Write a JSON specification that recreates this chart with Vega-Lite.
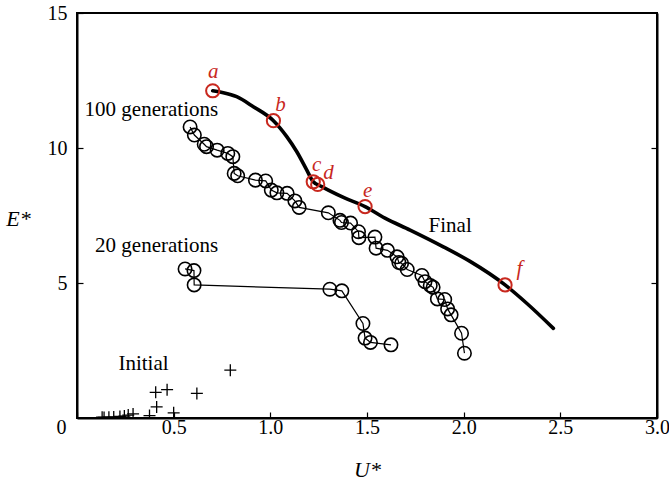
{
  "$schema": "https://vega.github.io/schema/vega-lite/v6.json",
  "width": 580,
  "height": 405,
  "autosize": {"type": "none"},
  "padding": {"left": 77, "top": 13, "right": 12, "bottom": 63},
  "config": {
    "font": "Liberation Serif",
    "view": {"stroke": "black", "strokeWidth": 2},
    "text": {"font": "Liberation Serif"},
    "axis": {"grid": false, "domainColor": "black", "domainWidth": 2, "tickColor": "black", "tickWidth": 1.2, "labelColor": "black", "labelFont": "Liberation Serif", "labelFontSize": 20, "titleFont": "Liberation Serif", "titleFontSize": 22, "titleFontStyle": "italic", "titleFontWeight": "normal", "titleColor": "black"}
  },
  "datasets": {
    "final": [
      {"u": 0.702, "e": 12.12}, {"u": 0.757, "e": 12.05}, {"u": 0.826, "e": 11.9}, {"u": 0.912, "e": 11.53},
      {"u": 1.016, "e": 11.01}, {"u": 1.085, "e": 10.42}, {"u": 1.137, "e": 9.86}, {"u": 1.188, "e": 9.19},
      {"u": 1.222, "e": 8.75}, {"u": 1.266, "e": 8.57}, {"u": 1.378, "e": 8.17}, {"u": 1.49, "e": 7.83},
      {"u": 1.593, "e": 7.4}, {"u": 1.723, "e": 6.96}, {"u": 1.895, "e": 6.34}, {"u": 2.033, "e": 5.8},
      {"u": 2.214, "e": 4.93}, {"u": 2.326, "e": 4.25}, {"u": 2.464, "e": 3.32}
    ],
    "gen100": [
      {"u": 0.585, "e": 10.78}, {"u": 0.607, "e": 10.48}, {"u": 0.658, "e": 10.14}, {"u": 0.67, "e": 10.05},
      {"u": 0.725, "e": 9.92}, {"u": 0.78, "e": 9.8}, {"u": 0.806, "e": 9.68}, {"u": 0.813, "e": 9.06},
      {"u": 0.831, "e": 8.97}, {"u": 0.923, "e": 8.81}, {"u": 0.976, "e": 8.78}, {"u": 1.005, "e": 8.44},
      {"u": 1.034, "e": 8.34}, {"u": 1.087, "e": 8.32}, {"u": 1.127, "e": 8.04}, {"u": 1.149, "e": 7.8},
      {"u": 1.3, "e": 7.6}, {"u": 1.36, "e": 7.32}, {"u": 1.368, "e": 7.24}, {"u": 1.415, "e": 7.22},
      {"u": 1.456, "e": 6.9}, {"u": 1.458, "e": 6.68}, {"u": 1.541, "e": 6.7}, {"u": 1.547, "e": 6.29},
      {"u": 1.606, "e": 6.21}, {"u": 1.655, "e": 5.97}, {"u": 1.665, "e": 5.76}, {"u": 1.679, "e": 5.73},
      {"u": 1.708, "e": 5.5}, {"u": 1.784, "e": 5.28}, {"u": 1.8, "e": 5.05}, {"u": 1.827, "e": 4.91},
      {"u": 1.842, "e": 4.84}, {"u": 1.864, "e": 4.41}, {"u": 1.902, "e": 4.39}, {"u": 1.917, "e": 4.04},
      {"u": 1.935, "e": 3.82}, {"u": 1.989, "e": 3.14}, {"u": 2.004, "e": 2.4}
    ],
    "gen20": [
      {"u": 0.559, "e": 5.52}, {"u": 0.605, "e": 5.46}, {"u": 0.606, "e": 4.93}, {"u": 1.308, "e": 4.77},
      {"u": 1.37, "e": 4.71}, {"u": 1.479, "e": 3.5}, {"u": 1.49, "e": 2.96}, {"u": 1.518, "e": 2.8},
      {"u": 1.624, "e": 2.71}
    ],
    "initial": [
      {"u": 0.793, "e": 1.77}, {"u": 0.407, "e": 0.95}, {"u": 0.466, "e": 1.05}, {"u": 0.62, "e": 0.91},
      {"u": 0.412, "e": 0.41}, {"u": 0.5, "e": 0.19}, {"u": 0.375, "e": 0.09}, {"u": 0.29, "e": 0.15},
      {"u": 0.265, "e": 0.11}, {"u": 0.245, "e": 0.07}, {"u": 0.222, "e": 0.06}, {"u": 0.19, "e": 0.04},
      {"u": 0.165, "e": 0.03}, {"u": 0.14, "e": 0.02}, {"u": 0.13, "e": 0.03}
    ],
    "picks": [
      {"u": 0.702, "e": 12.12}, {"u": 1.016, "e": 11.01}, {"u": 1.222, "e": 8.75},
      {"u": 1.245, "e": 8.65}, {"u": 1.49, "e": 7.83}, {"u": 2.214, "e": 4.93}
    ],
    "letters": [
      {"u": 0.705, "e": 12.58, "t": "a"}, {"u": 1.052, "e": 11.38, "t": "b"}, {"u": 1.239, "e": 9.16, "t": "c"},
      {"u": 1.301, "e": 8.84, "t": "d"}, {"u": 1.504, "e": 8.2, "t": "e"}, {"u": 2.288, "e": 5.3, "t": "f"}
    ],
    "notesRight": [
      {"u": 0.73, "e": 11.19, "t": "100 generations"}, {"u": 0.73, "e": 6.16, "t": "20 generations"}
    ],
    "notesCenter": [
      {"u": 0.344, "e": 1.78, "t": "Initial"}, {"u": 1.93, "e": 6.88, "t": "Final"}
    ]
  },
  "layer": [
    {
      "data": {"name": "final"},
      "mark": {"type": "line", "color": "black", "strokeWidth": 3.6, "strokeCap": "round", "interpolate": "monotone"},
      "encoding": {
        "x": {"field": "u", "type": "quantitative", "scale": {"domain": [0, 3], "nice": false, "zero": false},
          "axis": {"title": "U*", "values": [0, 0.5, 1, 1.5, 2, 2.5, 3], "tickSize": -6, "labelPadding": 15, "labelFlush": false, "labelBaseline": "middle",
            "labelExpr": "datum.value === 0 ? '0' : format(datum.value, '.1f')",
            "labelOffset": {"condition": {"test": "datum.value === 0", "value": -16}, "value": 0},
            "titleY": 51, "titleBaseline": "middle"}},
        "y": {"field": "e", "type": "quantitative", "scale": {"domain": [0, 15], "nice": false, "zero": false},
          "axis": {"title": "E*", "values": [5, 10, 15], "tickSize": -6, "labelPadding": 16, "titleAngle": 0, "titleX": -59, "titleY": 205, "titleAlign": "center", "titleBaseline": "middle"}},
        "order": {"value": null}
      }
    },
    {
      "data": {"name": "final"},
      "mark": {"type": "point", "opacity": 0},
      "encoding": {
        "x": {"field": "u", "type": "quantitative"},
        "y": {"field": "e", "type": "quantitative", "axis": {"orient": "right", "title": null, "labels": false, "values": [5, 10], "tickSize": -6}}
      }
    },
    {
      "data": {"name": "gen100"},
      "mark": {"type": "line", "color": "black", "strokeWidth": 1.2},
      "encoding": {"x": {"field": "u", "type": "quantitative"}, "y": {"field": "e", "type": "quantitative", "axis": null}, "order": {"value": null}}
    },
    {
      "data": {"name": "gen100"},
      "mark": {"type": "point", "shape": "circle", "filled": false, "stroke": "black", "strokeWidth": 1.6, "size": 180, "opacity": 1},
      "encoding": {"x": {"field": "u", "type": "quantitative"}, "y": {"field": "e", "type": "quantitative", "axis": null}}
    },
    {
      "data": {"name": "gen20"},
      "mark": {"type": "line", "color": "black", "strokeWidth": 1.2},
      "encoding": {"x": {"field": "u", "type": "quantitative"}, "y": {"field": "e", "type": "quantitative", "axis": null}, "order": {"value": null}}
    },
    {
      "data": {"name": "gen20"},
      "mark": {"type": "point", "shape": "circle", "filled": false, "stroke": "black", "strokeWidth": 1.6, "size": 180, "opacity": 1},
      "encoding": {"x": {"field": "u", "type": "quantitative"}, "y": {"field": "e", "type": "quantitative", "axis": null}}
    },
    {
      "data": {"name": "initial"},
      "mark": {"type": "point", "shape": "M-1,0H1M0,-1V1", "filled": false, "stroke": "black", "strokeWidth": 1.3, "size": 144, "opacity": 1, "clip": true},
      "encoding": {"x": {"field": "u", "type": "quantitative"}, "y": {"field": "e", "type": "quantitative", "axis": null}}
    },
    {
      "data": {"name": "picks"},
      "mark": {"type": "point", "shape": "circle", "filled": false, "stroke": "#c8281e", "strokeWidth": 2, "size": 175, "opacity": 1},
      "encoding": {"x": {"field": "u", "type": "quantitative"}, "y": {"field": "e", "type": "quantitative", "axis": null}}
    },
    {
      "data": {"name": "letters"},
      "mark": {"type": "text", "color": "#c8281e", "font": "Liberation Serif", "fontStyle": "italic", "fontSize": 21, "align": "center", "baseline": "alphabetic"},
      "encoding": {"x": {"field": "u", "type": "quantitative"}, "y": {"field": "e", "type": "quantitative", "axis": null}, "text": {"field": "t"}}
    },
    {
      "data": {"name": "notesRight"},
      "mark": {"type": "text", "color": "black", "font": "Liberation Serif", "fontSize": 21, "align": "right", "baseline": "alphabetic"},
      "encoding": {"x": {"field": "u", "type": "quantitative"}, "y": {"field": "e", "type": "quantitative", "axis": null}, "text": {"field": "t"}}
    },
    {
      "data": {"name": "notesCenter"},
      "mark": {"type": "text", "color": "black", "font": "Liberation Serif", "fontSize": 21, "align": "center", "baseline": "alphabetic"},
      "encoding": {"x": {"field": "u", "type": "quantitative"}, "y": {"field": "e", "type": "quantitative", "axis": null}, "text": {"field": "t"}}
    }
  ],
  "resolve": {"axis": {"y": "independent"}}
}
